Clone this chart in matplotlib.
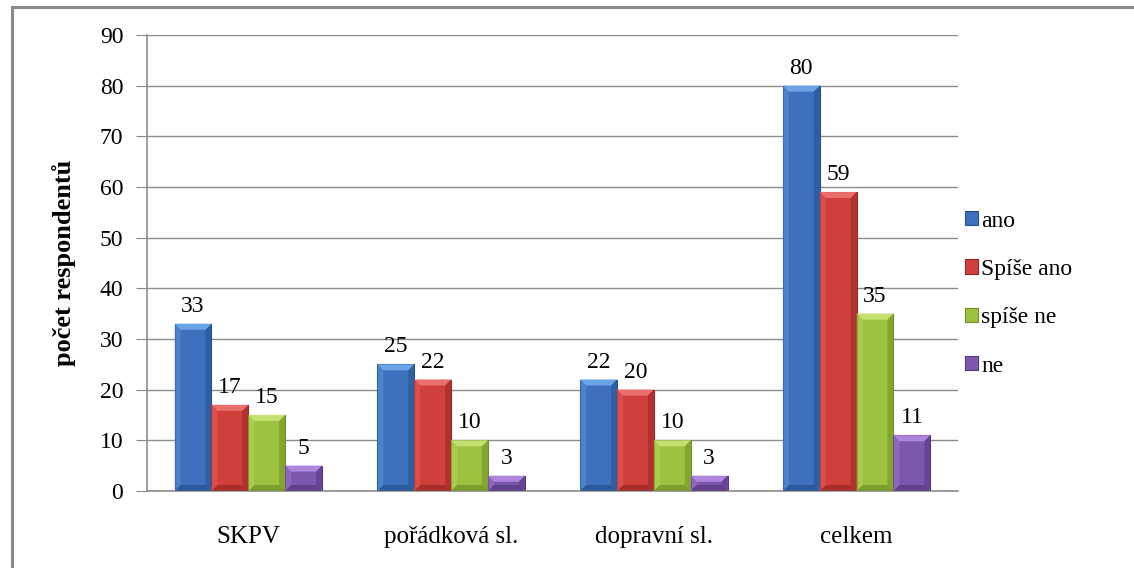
import numpy as np
import matplotlib
matplotlib.use('Agg')
import matplotlib.pyplot as plt
from matplotlib.patches import Polygon
from matplotlib.lines import Line2D

plt.rcParams['font.family'] = ['Liberation Serif', 'DejaVu Serif']

categories = ["SKPV", "pořádková sl.", "dopravní sl.", "celkem"]
series_names = ["ano", "Spíše ano", "spíše ne", "ne"]
ano = [33, 25, 22, 80]
spise_ano = [17, 22, 20, 59]
spise_ne = [15, 10, 10, 35]
ne = [5, 3, 3, 11]
y_ticks = [0, 10, 20, 30, 40, 50, 60, 70, 80, 90]

values = [ano, spise_ano, spise_ne, ne]
colors = ["#3d70bd", "#cf3f3c", "#9cc23f", "#7d56ad"]
tops = ["#6aa3e6", "#ea6f6c", "#c4e06e", "#ad86dc"]
darks = ["#24518f", "#9a2724", "#6f8f24", "#563882"]


def bevel(ax, bar, top_c, dark_c):
    # fake Excel-style bevel: light top, dark sides/bottom, sized in pixels
    x0, w, h = bar.get_x(), bar.get_width(), bar.get_height()
    inv = ax.transData.inverted()
    p0 = ax.transData.transform((x0, 0))
    dx = inv.transform(p0 + np.array([6, 0]))[0] - x0
    dy = inv.transform(p0 + np.array([0, 6]))[1]
    dy = min(dy, h / 2)
    x1 = x0 + w
    ax.add_patch(Polygon([(x0, h), (x1, h), (x1 - dx, h - dy), (x0 + dx, h - dy)],
                         closed=True, facecolor=top_c, edgecolor='none', zorder=3))
    ax.add_patch(Polygon([(x1, h), (x1, 0), (x1 - dx, dy), (x1 - dx, h - dy)],
                         closed=True, facecolor=dark_c, edgecolor='none', alpha=0.55, zorder=3))
    ax.add_patch(Polygon([(x0, 0), (x1, 0), (x1 - dx, dy), (x0 + dx, dy)],
                         closed=True, facecolor=dark_c, edgecolor='none', alpha=0.7, zorder=3))
    ax.add_patch(Polygon([(x0, h), (x0, 0), (x0 + dx, dy), (x0 + dx, h - dy)],
                         closed=True, facecolor=top_c, edgecolor='none', alpha=0.35, zorder=3))


fig = plt.figure(figsize=(11.34, 5.68), dpi=100)
ax = fig.add_axes([0.1296, 0.1356, 0.7152, 0.8028])

bw = 1 / 5.5
x = np.arange(len(categories))
handles = []
for i, (vals, name) in enumerate(zip(values, series_names)):
    pos = x - 2 * bw + (i + 0.5) * bw
    bars = ax.bar(pos, vals, bw, color=colors[i], edgecolor=darks[i], linewidth=0.8,
                  label=name, zorder=2)
    handles.append(bars)
    for b, v in zip(bars, vals):
        ax.annotate(str(v), (b.get_x() + b.get_width() / 2, v), xytext=(0, 5),
                    textcoords='offset points', ha='center', va='bottom', fontsize=17)

ax.set_xlim(-0.5, len(categories) - 0.5)
ax.set_ylim(0, 90)
ax.set_yticks(y_ticks)
ax.tick_params(axis='y', labelsize=17, length=8, color='#888888', pad=9)
ax.set_xticks(x)
ax.set_xticklabels(categories)
ax.tick_params(axis='x', labelsize=18, length=0, pad=25)
ax.yaxis.grid(True, color='#8c8c8c', linewidth=1)
ax.set_axisbelow(True)
for s in ['top', 'right']:
    ax.spines[s].set_visible(False)
for s in ['left', 'bottom']:
    ax.spines[s].set_color('#8c8c8c')
    ax.spines[s].set_linewidth(1.2)
ax.set_ylabel("počet respondentů", fontsize=19, fontweight='bold', labelpad=17)

fig.canvas.draw()
for i, bars in enumerate(handles):
    for b in bars:
        bevel(ax, b, tops[i], darks[i])

fig.legend(handles, series_names, loc='center left', bbox_to_anchor=(0.843, 0.483),
           frameon=False, fontsize=17, handlelength=0.55, handleheight=0.55,
           handletextpad=0.12, labelspacing=1.16, borderaxespad=0)

# chart frame (top and left edges)
fig.add_artist(Line2D([0.0106, 1.0], [0.9877, 0.9877], color='#8a8a8a', linewidth=2.2,
                      transform=fig.transFigure))
fig.add_artist(Line2D([0.0106, 0.0106], [0.0, 0.9877], color='#8a8a8a', linewidth=2.2,
                      transform=fig.transFigure))

fig.savefig("out.png", dpi=100)
